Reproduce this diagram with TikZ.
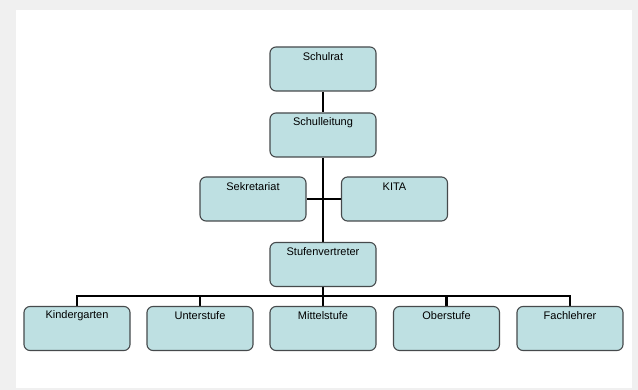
\documentclass[tikz,border=0pt]{standalone}
\usepackage{fontspec}
\setmainfont{Liberation Sans}
\definecolor{boxfill}{RGB}{190,224,226}
\definecolor{boxborder}{RGB}{70,74,76}
\definecolor{outerbg}{RGB}{240,240,240}
\begin{document}
\begin{tikzpicture}[x=1pt,y=-1pt,
  box/.style={draw=boxborder, fill=boxfill, rounded corners=6pt, line width=1.1pt,
    minimum width=106pt, minimum height=44pt, inner sep=0pt},
  lbl/.style={inner sep=0pt, font=\fontsize{11}{13}\selectfont},
  conn/.style={line width=2.9pt, black}]
\useasboundingbox (0,0) rectangle (638,390);
\fill[outerbg] (0,0) rectangle (638,390);
\fill[white] (16,10) rectangle (632,388);
% connectors first
\coordinate (bus) at (323,296);
\node[box, draw=none, fill=none] (srx) at (323,69) {};
\node[box, draw=none, fill=none] (slx) at (323,135) {};
\node[box, draw=none, fill=none] (svx) at (323,264.5) {};
\node[box, draw=none, fill=none] (sekx) at (253,199) {};
\node[box, draw=none, fill=none] (kitax) at (394.5,199) {};
\node[box, draw=none, fill=none] (kgx) at (77,328.5) {};
\node[box, draw=none, fill=none] (usx) at (200,328.5) {};
\node[box, draw=none, fill=none] (mix) at (323,328.5) {};
\node[box, draw=none, fill=none] (obx) at (446.5,328.5) {};
\node[box, draw=none, fill=none] (flx) at (570,328.5) {};
\draw[conn] (srx.south) -- (slx.north);
\draw[conn] (slx.south) -- (svx.north);
\draw[conn] (sekx.east) -- (kitax.west);
\draw[conn] (svx.south) -- (mix.north);
\draw[conn] (kgx.north) |- (bus) -| (flx.north);
\draw[conn] (usx.north) -- (usx.north |- bus);
\draw[conn] (obx.north) -- (obx.north |- bus);
% boxes
\node[box] (sr) at (srx) {};
\node[box] (sl) at (slx) {};
\node[box] (sek) at (sekx) {};
\node[box] (kita) at (kitax) {};
\node[box] (sv) at (svx) {};
\node[box] (kg) at (kgx) {};
\node[box] (us) at (usx) {};
\node[box] (mi) at (mix) {};
\node[box] (ob) at (obx) {};
\node[box] (fl) at (flx) {};
% labels
\node[lbl] (srl) at ([yshift=-10pt]sr.north) {Schulrat};
\node[lbl] (sll) at ([yshift=-10pt]sl.north) {Schulleitung};
\node[lbl] (sekl) at ([yshift=-10pt]sek.north) {Sekretariat};
\node[lbl] (kital) at ([yshift=-10pt]kita.north) {KITA};
\node[lbl] (svl) at ([yshift=-10pt]sv.north) {Stufenvertreter};
\node[lbl] (kgl) at ([yshift=-10pt]kg.north) {Kindergarten};
\node[lbl] (usl) at ([yshift=-10pt]us.north) {Unterstufe};
\node[lbl] (mil) at ([yshift=-10pt]mi.north) {Mittelstufe};
\node[lbl] (obl) at ([yshift=-10pt]ob.north) {Oberstufe};
\node[lbl] (fll) at ([yshift=-10pt]fl.north) {Fachlehrer};
\end{tikzpicture}
\end{document}
